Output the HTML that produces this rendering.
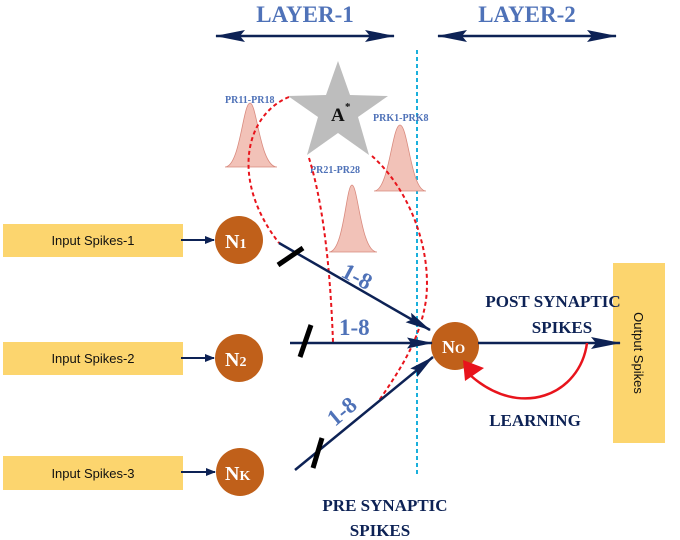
<!DOCTYPE html>
<html><head><meta charset="utf-8"><style>
html,body{margin:0;padding:0;background:#fff;}
svg{display:block;}
.s{font-family:"Liberation Serif",serif;font-weight:bold;}
.a{font-family:"Liberation Sans",sans-serif;}
</style></head><body>
<svg width="680" height="540" viewBox="0 0 680 540" xmlns="http://www.w3.org/2000/svg">
<defs>
<marker id="ah" markerWidth="10" markerHeight="8" refX="9" refY="4" orient="auto" markerUnits="userSpaceOnUse">
<path d="M0,0 L10,4 L0,8 z" fill="#0d2255"/></marker>
<marker id="big" markerWidth="30" markerHeight="12" refX="29" refY="6" orient="auto" markerUnits="userSpaceOnUse">
<path d="M0,0 L30,6 L0,12 L5,6 z" fill="#0d2255"/></marker>
<marker id="bigs" markerWidth="30" markerHeight="12" refX="1" refY="6" orient="auto" markerUnits="userSpaceOnUse">
<path d="M30,0 L0,6 L30,12 L25,6 z" fill="#0d2255"/></marker>
<marker id="mid" markerWidth="26" markerHeight="11" refX="25" refY="5.5" orient="auto" markerUnits="userSpaceOnUse">
<path d="M0,0 L26,5.5 L0,11 L4,5.5 z" fill="#0d2255"/></marker>
</defs>
<text x="305" y="22" class="s" font-size="23" fill="#4f72b8" text-anchor="middle">LAYER-1</text>
<text x="527" y="22" class="s" font-size="23" fill="#4f72b8" text-anchor="middle">LAYER-2</text>
<line x1="216" y1="36" x2="394" y2="36" stroke="#0d2255" stroke-width="2.5" marker-start="url(#bigs)" marker-end="url(#big)"/>
<line x1="438" y1="36" x2="616" y2="36" stroke="#0d2255" stroke-width="2.5" marker-start="url(#bigs)" marker-end="url(#big)"/>
<line x1="417" y1="50" x2="417" y2="475" stroke="#1ab0dc" stroke-width="2" stroke-dasharray="4,3"/>
<polygon points="338,61 350,95 388,96 358,117 369,155 338,133 307,155 318,117 288,96 326,95" fill="#bdbdbd"/>
<text x="331" y="121" class="s" font-size="19" fill="#111">A</text>
<text x="345" y="110" class="s" font-size="11" fill="#111">*</text>
<g fill="#f2c2b8" stroke="#d98a7e" stroke-width="0.8">
<path d="M225,167 C240,167 243,103 250,103 C257,103 260,167 277,167 Z"/>
<path d="M329,252 C344,252 346,185 352,185 C358,185 361,252 377,252 Z"/>
<path d="M374,191 C389,191 392,125 400,125 C408,125 411,191 426,191 Z"/>
</g>
<text x="225" y="103" class="s" font-size="10" fill="#4f72b8">PR11-PR18</text>
<text x="373" y="121" class="s" font-size="10" fill="#4f72b8">PRK1-PRK8</text>
<text x="310" y="173" class="s" font-size="10" fill="#4f72b8">PR21-PR28</text>
<g fill="none" stroke="#e8141c" stroke-width="2" stroke-dasharray="4,3">
<path d="M289,97 C245,115 230,180 279,243"/>
<path d="M309,158 C322,200 330,260 333,342"/>
<path d="M372,156 C410,190 432,250 426,300 C420,340 400,370 378,402"/>
</g>
<g fill="#fcd56e">
<rect x="3" y="224" width="180" height="33"/>
<rect x="3" y="342" width="180" height="33"/>
<rect x="3" y="456" width="180" height="34"/>
<rect x="613" y="263" width="52" height="180"/>
</g>
<g class="a" font-size="13" fill="#111" text-anchor="middle">
<text x="93" y="245">Input Spikes-1</text>
<text x="93" y="363">Input Spikes-2</text>
<text x="93" y="478">Input Spikes-3</text>
<text transform="translate(634,353) rotate(90)" x="0" y="0">Output Spikes</text>
</g>
<g stroke="#0d2255" stroke-width="2" marker-end="url(#ah)">
<line x1="181" y1="240" x2="214" y2="240"/>
<line x1="181" y1="358" x2="214" y2="358"/>
<line x1="181" y1="472" x2="215" y2="472"/>
</g>
<g fill="#c0601a">
<circle cx="239" cy="240" r="24"/>
<circle cx="239" cy="358" r="24"/>
<circle cx="240" cy="472" r="24"/>
<circle cx="455" cy="346" r="24"/>
</g>
<g class="s" fill="#fff" font-size="20">
<text x="225" y="248">N<tspan font-size="14">1</tspan></text>
<text x="225" y="366">N<tspan font-size="14">2</tspan></text>
<text x="225" y="480">N<tspan font-size="14">K</tspan></text>
<text x="442" y="353" font-size="18">N<tspan font-size="13">O</tspan></text>
</g>
<g stroke="#0d2255" stroke-width="2.5" fill="none">
<line x1="279" y1="243" x2="430" y2="330" marker-end="url(#mid)"/>
<line x1="290" y1="343" x2="432" y2="343" marker-end="url(#mid)"/>
<line x1="295" y1="470" x2="433" y2="357" marker-end="url(#mid)"/>
<line x1="478" y1="343" x2="620" y2="343" marker-end="url(#big)"/>
</g>
<g stroke="#000" stroke-width="5">
<line x1="278" y1="265" x2="303" y2="248"/>
<line x1="300" y1="357" x2="311" y2="325"/>
<line x1="313" y1="468" x2="322" y2="438"/>
</g>
<g class="s" font-size="23" fill="#4f72b8">
<text transform="translate(340,276) rotate(28)">1-8</text>
<text x="339" y="335">1-8</text>
<text transform="translate(335,427) rotate(-40)">1-8</text>
</g>
<path d="M587,343 C580,395 520,420 470,375" fill="none" stroke="#e8141c" stroke-width="2.5"/>
<polygon points="463,360 484,368 465,381" fill="#e8141c"/>
<g class="s" font-size="17" fill="#0d2255" text-anchor="middle">
<text x="553" y="307">POST SYNAPTIC</text>
<text x="562" y="333">SPIKES</text>
<text x="535" y="426">LEARNING</text>
<text x="385" y="511">PRE SYNAPTIC</text>
<text x="380" y="536">SPIKES</text>
</g>
</svg>
</body></html>
